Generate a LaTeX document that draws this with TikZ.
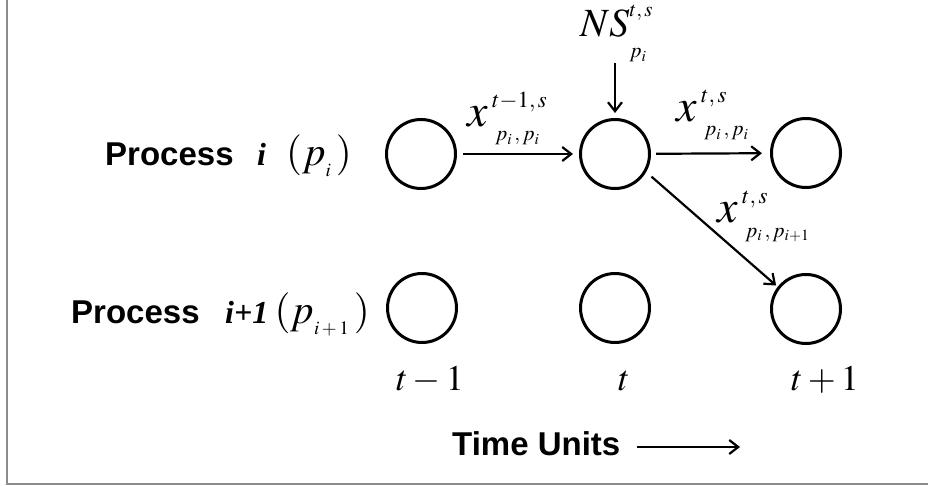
\documentclass[tikz,border=0pt]{standalone}
\usepackage{mathptmx}
\usepackage{fontspec}
\setmainfont{Liberation Serif}
\setsansfont{Liberation Sans}
\usetikzlibrary{arrows.meta}
\newcommand{\xlab}[2]{{\fontsize{46}{48}\selectfont$x$}\hspace{4.5pt}\rlap{\raisebox{19pt}{\fontsize{23}{23}\selectfont$#1$}}\hspace{3pt}\raisebox{-14pt}{\fontsize{21}{21}\selectfont$#2$}}
\newcommand{\plab}[1]{{\fontsize{41}{44}\selectfont$(p$}\raisebox{-11pt}{\fontsize{19}{19}\selectfont$#1$}\hspace{5pt}{\fontsize{41}{44}\selectfont$)$}}
\begin{document}
\begin{tikzpicture}[x=1pt,y=-1pt,
  st/.style={circle,draw,line width=3pt,minimum size=69pt,inner sep=0pt},
  arr/.style={line width=2.2pt,-{Straight Barb[length=9pt,width=14pt,line width=2.2pt]}},
  lbl/.style={anchor=base west,inner sep=0pt},
  rlbl/.style={anchor=base east,inner sep=0pt},
  sflab/.style={font=\sffamily\bfseries\fontsize{33}{36}\selectfont},
  bilab/.style={font=\fontsize{32}{36}\selectfont\bfseries\itshape},
  tlab/.style={anchor=base,inner sep=0pt,font=\fontsize{36}{40}\selectfont}]
\useasboundingbox (0,0) rectangle (928,486);
\draw[line width=2pt,color=black!45] (6.7,0) -- (6.7,484) -- (928,484);
% states
\node[st] (a1) at (421,154) {};
\node[st] (a2) at (615,154) {};
\node[st] (a3) at (806,153) {};
\node[st] (b1) at (422,308) {};
\node[st] (b2) at (615,308) {};
\node[st] (b3) at (806,309) {};
% row labels
\node[lbl,sflab] (pa) at (105,166) {Process};
\node[lbl,bilab] (pb) at (257,166) {i};
\node[rlbl] (pc) at (352,166) {\plab{i}};
\node[lbl,sflab] (qa) at (71,323) {Process};
\node[lbl,bilab] (qb) at (225,323) {i+1};
\node[rlbl] (qc) at (370,323) {\plab{i+1}};
% time labels
\node[tlab] (t1) at (430,390) {$t-1$};
\node[tlab] (t2) at (624,390) {$t$};
\node[tlab] (t3) at (825,390) {$t+1$};
% NS input
\node[lbl] (ns) at (580,37) {{\fontsize{40}{42}\selectfont$NS$}\rlap{\raisebox{20pt}{\fontsize{21}{21}\selectfont$t,s$}}\raisebox{-21pt}{\fontsize{21}{21}\selectfont$p_i$}};
\coordinate (nstop) at (615,63);
\draw[arr,shorten >=5pt] (nstop) -- (a2);
% flows
\draw[arr,shorten <=6pt,shorten >=6pt] (a1) -- (a2);
\draw[arr,shorten <=5pt,shorten >=8pt] (a2) -- (a3);
\draw[arr,shorten <=7pt,shorten >=2pt] (a2.-30) -- (b3.142);
\node[lbl] (l1) at (467,127) {\xlab{t{-}1,s}{p_i\,,p_i}};
\node[lbl] (l2) at (676,122) {\xlab{t,s}{p_i\,,p_i}};
\node[lbl] (l3) at (717,223) {\xlab{t,s}{p_i\,,p_{i+1}}};
% time axis
\node[lbl,sflab] (tu) at (452,455) {Time Units};
\coordinate (ta) at (637,447);
\coordinate (tb) at (740,447);
\draw[arr] (ta) -- (tb);
\end{tikzpicture}
\end{document}
